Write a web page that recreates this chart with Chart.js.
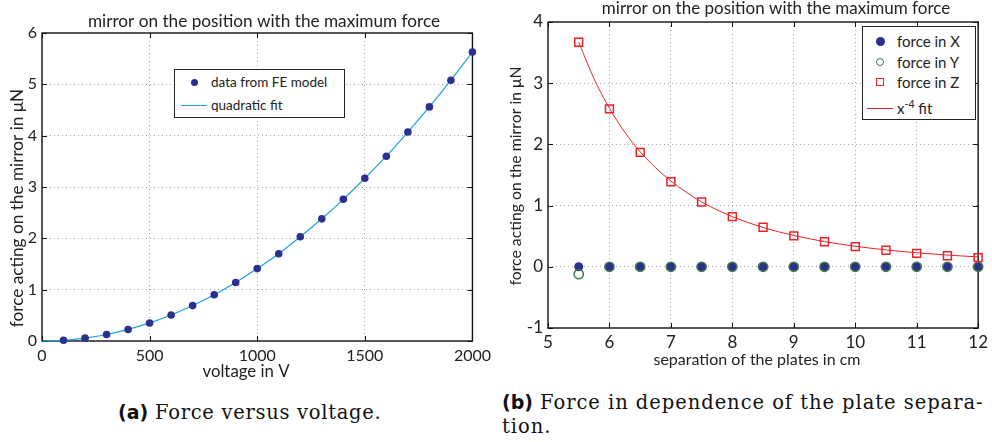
<!DOCTYPE html>
<html><head><meta charset="utf-8">
<script src="https://cdn.jsdelivr.net/npm/chart.js@4.4.0/dist/chart.umd.min.js"></script>
<style>
body{margin:0;background:#fff;width:992px;height:442px;overflow:hidden;position:relative;font-family:Lato,"Open Sans",sans-serif;color:#222}
.wrap{position:absolute;top:0;width:496px;height:385px}
.legend{position:absolute;border:1.3px solid #222;background:#fff;box-sizing:border-box}
.row{position:absolute;left:0;right:0;height:20px;line-height:20px;white-space:nowrap}
.mk{position:absolute;box-sizing:border-box}
.lt{position:absolute}
.cap{position:absolute;white-space:nowrap;font-family:"DejaVu Serif",serif;font-size:19.5px;line-height:24px;color:#111;letter-spacing:0.7px}
.cap b{font-family:"DejaVu Sans",sans-serif;font-weight:bold;letter-spacing:0;font-size:19px}
</style></head><body>
<div class="wrap" style="left:0"><canvas id="c1" width="496" height="385"></canvas></div>
<div class="wrap" style="left:496px"><canvas id="c2" width="496" height="385"></canvas></div>
<div class="legend" id="leg1" style="left:174px;top:69px;width:171px;height:49px"></div>
<div class="legend" id="leg2" style="left:862px;top:26px;width:114px;height:94px"></div>
<div class="cap" style="left:118px;top:400px"><b>(a)</b> Force versus voltage.</div>
<div class="cap" style="left:502px;top:390px;letter-spacing:0.95px"><b>(b)</b> Force in dependence of the plate separa-</div>
<div class="cap" style="left:502px;top:415px;letter-spacing:0.95px">tion.</div>
<script>
// ---- data (a) ----
const voltage = [100,200,300,400,500,600,700,800,900,1000,1100,1200,1300,1400,1500,1600,1700,1800,1900,2000];
const forceFE = [0.014,0.056,0.127,0.225,0.352,0.507,0.69,0.90,1.14,1.41,1.70,2.03,2.38,2.76,3.17,3.60,4.07,4.56,5.08,5.63];
const fitVoltage = [0,100,200,300,400,500,600,700,800,900,1000,1100,1200,1300,1400,1500,1600,1700,1800,1900,2000];
const fitForce = [0,0.014,0.056,0.127,0.225,0.352,0.507,0.69,0.90,1.14,1.41,1.70,2.03,2.38,2.76,3.17,3.60,4.07,4.56,5.08,5.63];
const voltageTicks = [0,500,1000,1500,2000];
const forceTicksA = [0,1,2,3,4,5,6];
// ---- data (b) ----
const separation = [5.5,6,6.5,7,7.5,8,8.5,9,9.5,10,10.5,11,11.5,12];
const forceX = [0,0,0,0,0,0,0,0,0,0,0,0,0,0];
const forceY = [-0.12,0,0,0,0,0,0,0,0,0,0,0,0,0];
const forceZ = [3.67,2.58,1.87,1.39,1.06,0.82,0.645,0.505,0.41,0.33,0.27,0.22,0.18,0.15];
const fitSeparation = [5.5,5.75,6,6.25,6.5,6.75,7,7.25,7.5,7.75,8,8.25,8.5,8.75,9,9.25,9.5,9.75,10,10.25,10.5,10.75,11,11.25,11.5,11.75,12];
const fitZ = [3.67,3.07,2.59,2.20,1.88,1.62,1.40,1.22,1.06,0.93,0.82,0.725,0.643,0.573,0.512,0.459,0.412,0.372,0.336,0.304,0.276,0.251,0.229,0.210,0.192,0.176,0.162];
const separationTicks = [5,6,7,8,9,10,11,12];
const forceTicksB = [-1,0,1,2,3,4];

const NAVY = '#2b2f8f', CYAN = '#1ca2d6', GREEN = '#3f7a4f', RED = '#ec2228';
const FONT = 'Lato, "Open Sans", sans-serif';

const frame = {
  id: 'frame',
  beforeDatasetsDraw(chart) {
    const {ctx, chartArea: a, scales: {x, y}} = chart;
    ctx.save();
    ctx.strokeStyle = '#111'; ctx.lineWidth = 1;
    ctx.beginPath();
    const L = 5;
    x.ticks.forEach(t => { const p = Math.round(x.getPixelForValue(t.value)) + 0.5;
      ctx.moveTo(p, a.bottom); ctx.lineTo(p, a.bottom - L); ctx.moveTo(p, a.top); ctx.lineTo(p, a.top + L); });
    y.ticks.forEach(t => { const p = Math.round(y.getPixelForValue(t.value)) + 0.5;
      ctx.moveTo(a.left, p); ctx.lineTo(a.left + L, p); ctx.moveTo(a.right, p); ctx.lineTo(a.right - L, p); });
    ctx.stroke();
    ctx.lineWidth = 1.4;
    ctx.strokeRect(a.left, a.top, a.right - a.left, a.bottom - a.top);
    ctx.restore();
  },
  afterDraw(chart, args, o) {
    const ctx = chart.ctx;
    ctx.save();
    ctx.fillStyle = '#222';
    ctx.textAlign = 'center'; ctx.textBaseline = 'middle';
    ctx.font = o.title[3] + 'px ' + FONT;
    ctx.fillText(o.title[0], o.title[1], o.title[2]);
    ctx.font = o.xTitle[3] + 'px ' + FONT;
    ctx.fillText(o.xTitle[0], o.xTitle[1], o.xTitle[2]);
    ctx.font = o.yTitle[3] + 'px ' + FONT;
    ctx.translate(o.yTitle[1], o.yTitle[2]); ctx.rotate(-Math.PI / 2);
    ctx.fillText(o.yTitle[0], 0, 0);
    ctx.restore();
  }
};

function scales(xMin, xMax, xTicks, yMin, yMax, yTicks, plotBottom, yWidth, fs, xpad) {
  const gridColor = c => (c.tick && (c.tick.value === c.scale.min || c.tick.value === c.scale.max)) ? 'rgba(0,0,0,0)' : '#a8a8a8';
  const common = {
    grid: {color: gridColor, drawTicks: false, lineWidth: 1},
    border: {display: false, dash: [1, 3]},
  };
  return {
    x: Object.assign({}, common, {type: 'linear', min: xMin, max: xMax,
      afterBuildTicks: s => { s.ticks = xTicks.map(v => ({value: v})); },
      afterFit: s => { s.height = 385 - plotBottom; },
      ticks: {color: '#222', font: {family: FONT, size: fs}, padding: xpad, maxRotation: 0, autoSkip: false, callback: v => String(v)}}),
    y: Object.assign({}, common, {type: 'linear', min: yMin, max: yMax,
      afterBuildTicks: s => { s.ticks = yTicks.map(v => ({value: v})); },
      afterFit: s => { s.width = yWidth; },
      ticks: {color: '#222', font: {family: FONT, size: fs}, padding: 5, autoSkip: false, callback: v => String(v)}})
  };
}

const chartA = new Chart(document.getElementById('c1'), {
  type: 'scatter',
  data: {datasets: [
    {label: 'data from FE model', data: voltage.map((v, i) => ({x: v, y: forceFE[i]})),
     pointStyle: 'circle', pointRadius: 3.8, backgroundColor: NAVY, borderColor: NAVY, borderWidth: 0, clip: false, order: 1},
    {label: 'quadratic fit', type: 'line', data: fitVoltage.map((v, i) => ({x: v, y: fitForce[i]})),
     showLine: true, pointRadius: 0, borderColor: CYAN, borderWidth: 1.2, cubicInterpolationMode: 'monotone', fill: false, clip: false, order: 2}
  ]},
  options: {
    responsive: false, animation: false, devicePixelRatio: 1,
    layout: {padding: {left: 0, right: 21, top: 33, bottom: 0}},
    scales: scales(0, 2000, voltageTicks, 0, 6, forceTicksA, 341, 42, 16, 5),
    plugins: {legend: {display: false}, tooltip: {enabled: false},
      frame: {title: ['mirror on the position with the maximum force', 264, 21, 17.2],
              xTitle: ['voltage in V', 246, 372, 16.8],
              yTitle: ['force acting on the mirror in \u03bcN', 17, 208, 17.2]}}
  },
  plugins: [frame]
});

const chartB = new Chart(document.getElementById('c2'), {
  type: 'scatter',
  data: {datasets: [
    {label: 'force in X', data: separation.map((v, i) => ({x: v, y: forceX[i]})),
     pointStyle: 'circle', pointRadius: 4.5, backgroundColor: NAVY, borderColor: NAVY, borderWidth: 0, clip: false, order: 3},
    {label: 'force in Y', data: separation.map((v, i) => ({x: v, y: forceY[i]})),
     pointStyle: 'circle', pointRadius: 4.6, backgroundColor: 'rgba(0,0,0,0)', borderColor: GREEN, borderWidth: 1.6, clip: false, order: 2},
    {label: 'force in Z', data: separation.map((v, i) => ({x: v, y: forceZ[i]})),
     pointStyle: 'rect', pointRadius: 5.6, backgroundColor: 'rgba(0,0,0,0)', borderColor: RED, borderWidth: 1.5, clip: false, order: 1},
    {label: 'x-4 fit', type: 'line', data: fitSeparation.map((v, i) => ({x: v, y: fitZ[i]})),
     showLine: true, pointRadius: 0, borderColor: RED, borderWidth: 1, cubicInterpolationMode: 'monotone', fill: false, clip: false, order: 4}
  ]},
  options: {
    responsive: false, animation: false, devicePixelRatio: 1,
    layout: {padding: {left: 0, right: 13, top: 22, bottom: 0}},
    scales: scales(5, 12, separationTicks, -1, 4, forceTicksB, 328, 52, 17, 4),
    plugins: {legend: {display: false}, tooltip: {enabled: false},
      frame: {title: ['mirror on the position with the maximum force', 280, 9, 17],
              xTitle: ['separation of the plates in cm', 261, 360, 16],
              yTitle: ['force acting on the mirror in \u03bcN', 20, 176, 15.8]}}
  },
  plugins: [frame]
});

// ---- legends (HTML, built from dataset styles) ----
function marker(ds) {
  if (ds.type === 'line') return `<div class="mk" style="left:LINEL;width:26px;top:9.5px;height:0;border-top:1.2px solid ${ds.borderColor}"></div>`;
  if (ds.pointStyle === 'rect') return `<div class="mk" style="left:MKL;top:6px;width:8px;height:8px;margin-left:-4px;border:1.5px solid ${ds.borderColor}"></div>`;
  if (ds.borderWidth > 0) return `<div class="mk" style="left:MKL;top:6px;width:8px;height:8px;margin-left:-4px;border-radius:50%;border:1.5px solid ${ds.borderColor}"></div>`;
  return `<div class="mk" style="left:MKL;top:MKT;width:MKS;height:MKS;margin-left:MKM;border-radius:50%;background:${ds.backgroundColor}"></div>`;
}
function buildLegend(el, chart, cfg) {
  let html = '';
  chart.data.datasets.forEach((ds, i) => {
    let label = ds.label.replace('x-4', 'x<sup style="font-size:0.7em;vertical-align:0.6em;line-height:0">-4</sup>');
    let m = marker(ds).replace('LINEL', cfg.lineL + 'px').replace(/MKL/g, cfg.mkL + 'px')
      .replace(/MKS/g, cfg.dot + 'px').replace('MKT', (10 - cfg.dot / 2) + 'px').replace('MKM', (-cfg.dot / 2) + 'px');
    html += `<div class="row" style="top:${cfg.rows[i] - 10}px;font-size:${cfg.fs}px">${m}<span class="lt" style="left:${cfg.textL}px">${label}</span></div>`;
  });
  el.innerHTML = html;
}
buildLegend(document.getElementById('leg1'), chartA, {rows: [12, 35], fs: 13.5, lineL: 6, mkL: 19, textL: 36, dot: 7});
buildLegend(document.getElementById('leg2'), chartB, {rows: [14, 35, 55, 81], fs: 15, lineL: 4, mkL: 17, textL: 34, dot: 9});
</script>
</body></html>
